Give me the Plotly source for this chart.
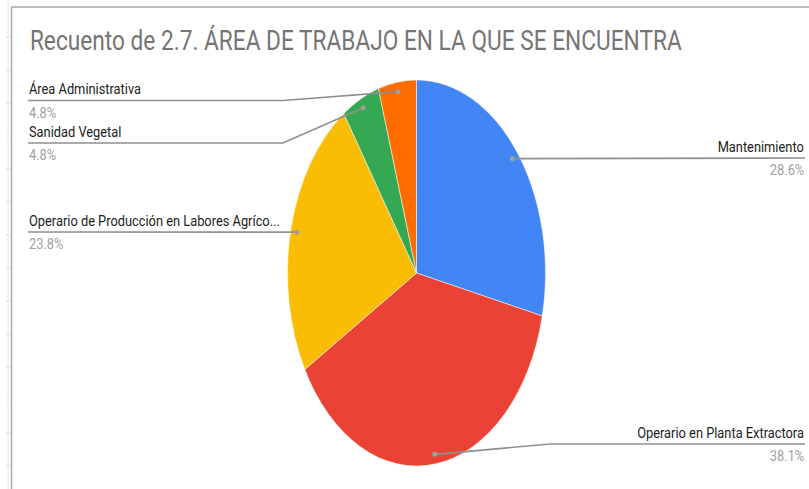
import plotly.graph_objects as go
import numpy as np
import json

# ---------------- data ----------------
categories = ["Mantenimiento", "Operario en Planta Extractora",
              "Operario de Producción en Labores Agrícolas", "Sanidad Vegetal",
              "Área Administrativa"]
label_text = ["Mantenimiento", "Operario en Planta Extractora",
              "Operario de Producción en Labores Agríco...", "Sanidad Vegetal",
              "Área Administrativa"]
counts = [6, 8, 5, 1, 1]
colors = ["#4285F4", "#EA4335", "#FBBC04", "#34A853", "#FF6D01"]
title_text = "Recuento de 2.7. ÁREA DE TRABAJO EN LA QUE SE ENCUENTRA"

# ---------------- geometry (pixels) ----------------
W, H = 809, 489
CX, CY = 416.5, 273.0
RY = 193.0
RX = 129.0
S = RX / RY
DOT_K = 0.95
FONT = "Roboto, Liberation Sans, Arial"
LABEL_SIZE = 15
LABEL_SX = 0.856
TITLE_SIZE = 27
TITLE_SX = 0.84

# label layout: side, underline y, x of bend (or None)
label_layout = [
    ("right", 158.0, None),
    ("right", 444.0, 550.0),
    ("left", 232.0, None),
    ("left", 143.0, 283.0),
    ("left", 100.5, 283.0),
]
LEFT_X, RIGHT_X = 28.0, 805.0


def px(x):
    return x / W


def py(y):
    return 1 - y / H


fig = go.Figure()
fig.add_trace(go.Pie(
    labels=categories, values=counts, sort=False, direction="clockwise",
    rotation=0, marker=dict(colors=colors, line=dict(color="white", width=0.6)),
    textinfo="none", hoverinfo="label+percent+value", showlegend=False,
    domain=dict(x=[px(CX - RY), px(CX + RY)], y=[py(CY + RY), py(CY - RY)]),
))

total = sum(counts)
frac = np.array(counts) / total
cum = np.cumsum(frac) - frac / 2
shapes = []
annotations = []
ann_sides = []
ann_scales = []
line_col = "#909090"
for i, (side, ly, bend) in enumerate(label_layout):
    ang = 2 * np.pi * cum[i]
    dx = CX + RX * DOT_K * np.sin(ang)
    dy = CY - RY * DOT_K * np.cos(ang)
    end_x = RIGHT_X if side == "right" else LEFT_X
    pts = [(dx, dy)] + ([(bend, ly)] if bend else []) + [(end_x, ly)]
    path = "M " + " L ".join(f"{px(x):.5f},{py(y):.5f}" for x, y in pts)
    shapes.append(dict(type="path", path=path, xref="paper", yref="paper",
                       line=dict(color=line_col, width=1.7), layer="above"))
    r = 2.5
    shapes.append(dict(type="circle", xref="paper", yref="paper",
                       x0=px(dx - r), x1=px(dx + r), y0=py(dy + r), y1=py(dy - r),
                       fillcolor="#9e9e9e", line=dict(width=0), layer="above"))
    anchor = "right" if side == "right" else "left"
    annotations.append(dict(x=px(end_x), y=py(ly - 1), xref="paper", yref="paper",
                            text=label_text[i], showarrow=False, xanchor=anchor,
                            yanchor="bottom", borderpad=0,
                            font=dict(family=FONT, size=LABEL_SIZE, color="#222222")))
    annotations.append(dict(x=px(end_x), y=py(ly + 2), xref="paper", yref="paper",
                            text=f"{frac[i]*100:.1f}%", showarrow=False, xanchor=anchor,
                            yanchor="top", borderpad=0,
                            font=dict(family=FONT, size=LABEL_SIZE, color="#a0a0a0")))
    ann_sides += [anchor, anchor]
    ann_scales += [LABEL_SX, LABEL_SX]

annotations.append(dict(x=px(28), y=py(41), xref="paper", yref="paper", text=title_text,
                        showarrow=False, xanchor="left", yanchor="middle",
                        font=dict(family=FONT, size=TITLE_SIZE, color="#757575")))
ann_sides.append("left")
ann_scales.append(TITLE_SX)

# frame lines
shapes.append(dict(type="line", xref="paper", yref="paper", x0=px(11.5), x1=1,
                   y0=py(7), y1=py(7), line=dict(color="#a8a8a8", width=1.5)))
shapes.append(dict(type="line", xref="paper", yref="paper", x0=px(11.5), x1=px(11.5),
                   y0=py(7), y1=0, line=dict(color="#a8a8a8", width=1.5)))
shapes.append(dict(type="line", xref="paper", yref="paper", x0=px(8), x1=px(8),
                   y0=py(0), y1=0, line=dict(color="#e6e6e6", width=1)))
for k in range(14):
    ty = 37 + 33 * k
    shapes.append(dict(type="line", xref="paper", yref="paper", x0=px(5.5), x1=px(11),
                       y0=py(ty), y1=py(ty), line=dict(color="#e0e0e0", width=1)))

fig.update_layout(width=W, height=H, margin=dict(l=0, r=0, t=0, b=0),
                  paper_bgcolor="white", plot_bgcolor="white",
                  shapes=shapes, annotations=annotations, showlegend=False)

js = (
    "document.body.style.margin='0';"
    "var gd=document.getElementById('{plot_id}');"
    "var sides=" + json.dumps(ann_sides) + ";"
    "var scl=" + json.dumps(ann_scales) + ";"
    "function sq(){var l=gd.querySelector('.pielayer');"
    "if(l){l.setAttribute('transform','translate(" + f"{CX*(1-S):.3f}" + ",0) scale(" + f"{S:.5f}" + ",1)');}"
    "gd.querySelectorAll('.annotation').forEach(function(a){"
    "var i=+a.getAttribute('data-index');var t=a.querySelector('.annotation-text-g');"
    "if(!t||isNaN(i)||scl[i]===undefined)return;var b=t.getBBox();"
    "var ax=(sides[i]==='right')?(b.x+b.width):b.x;var s=scl[i];"
    "t.setAttribute('transform','translate('+(ax*(1-s))+',0) scale('+s+',1)');});}"
    "sq(); if(gd.on){gd.on('plotly_afterplot',sq);}"
)
fig.write_html("out.html", post_script=js, config={"displayModeBar": False})
